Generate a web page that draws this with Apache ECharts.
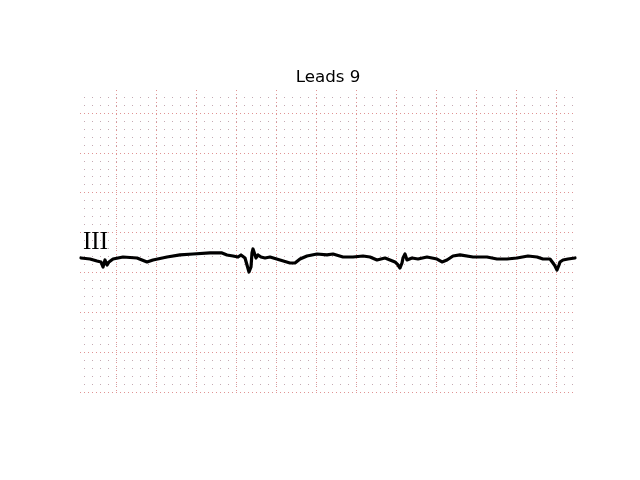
<!DOCTYPE html>
<html>
<head>
<meta charset="utf-8">
<script src="https://cdn.jsdelivr.net/npm/echarts@6/dist/echarts.min.js"></script>
<style>html,body{margin:0;padding:0;background:#fff}#c{width:640px;height:480px}</style>
</head>
<body>
<div id="c"></div>
<script>
// Lead III trace: time (s) and amplitude (mV)
const times = [0.005,0.05,0.085,0.105,0.115,0.125,0.135,0.145,0.165,0.215,0.285,0.335,0.365,0.435,0.5,0.565,0.65,0.71,0.735,0.765,0.79,0.805,0.825,0.835,0.845,0.855,0.86,0.865,0.875,0.88,0.89,0.905,0.925,0.95,1.0,1.05,1.075,1.1,1.135,1.185,1.235,1.265,1.315,1.365,1.415,1.45,1.485,1.525,1.55,1.575,1.59,1.6,1.61,1.615,1.625,1.635,1.645,1.66,1.69,1.735,1.785,1.81,1.835,1.865,1.9,1.965,2.035,2.085,2.135,2.185,2.24,2.285,2.315,2.35,2.365,2.375,2.385,2.395,2.4,2.415,2.44,2.475];
const values = [0.181,0.168,0.143,0.131,0.068,0.156,0.093,0.131,0.168,0.193,0.181,0.131,0.156,0.193,0.219,0.231,0.244,0.244,0.219,0.206,0.193,0.219,0.181,0.093,0.005,0.068,0.244,0.294,0.219,0.181,0.219,0.193,0.181,0.193,0.156,0.118,0.118,0.168,0.206,0.231,0.219,0.231,0.193,0.193,0.206,0.193,0.156,0.181,0.156,0.131,0.093,0.055,0.118,0.181,0.231,0.156,0.131,0.181,0.168,0.193,0.168,0.131,0.156,0.206,0.219,0.193,0.193,0.168,0.168,0.181,0.206,0.193,0.168,0.168,0.118,0.081,0.030,0.093,0.131,0.156,0.168,0.181];
const title = 'Leads 9';
const leadName = 'III';

const chart = echarts.init(document.getElementById('c'), null, {renderer: 'canvas'});
const majorStyle = {color: '#e09494', width: 1, type: [1, 3], dashOffset: 0};
const minorStyle = {color: '#c4a9b2', width: 1, type: [1, 7], dashOffset: 4};
chart.setOption({
  backgroundColor: '#ffffff',
  animation: false,
  grid: {left: 80, right: 64, top: 90, bottom: 88, containLabel: false},
  xAxis: [
    {type: 'value', min: 0, max: 2.48, show: false},
    {type: 'value', min: -0.18, max: 2.30, minInterval: 0.2, maxInterval: 0.2,
     axisLine: {show: false}, axisTick: {show: false}, axisLabel: {show: false},
     splitLine: {show: true, showMinLine: false, showMaxLine: false, lineStyle: majorStyle},
     minorTick: {show: false, splitNumber: 5},
     minorSplitLine: {show: false}}
  ],
  yAxis: {type: 'value', min: -1.5, max: 2.288, interval: 0.5,
    axisLine: {show: false}, axisTick: {show: false}, axisLabel: {show: false},
    splitLine: {show: true, showMinLine: true, showMaxLine: false, lineStyle: majorStyle},
    minorTick: {show: false, splitNumber: 5},
    minorSplitLine: {show: true, lineStyle: minorStyle}},
  series: [{
    type: 'line', xAxisIndex: 0, yAxisIndex: 0,
    data: times.map((t, i) => [t, values[i]]),
    showSymbol: false, symbol: 'none', smooth: false,
    lineStyle: {color: '#000000', width: 3.2, join: 'round', cap: 'round'},
    z: 5
  }],
  graphic: [
    {type: 'text', style: {text: title, x: 328, y: 78, align: 'center', verticalAlign: 'middle',
      font: '16.7px "DejaVu Sans"', fill: '#000'}},
    {type: 'text', z: 10, style: {text: leadName, x: 83, y: 242, align: 'left', verticalAlign: 'middle',
      font: '25px "Liberation Serif"', fill: '#000'}}
  ]
});
</script>
</body>
</html>
